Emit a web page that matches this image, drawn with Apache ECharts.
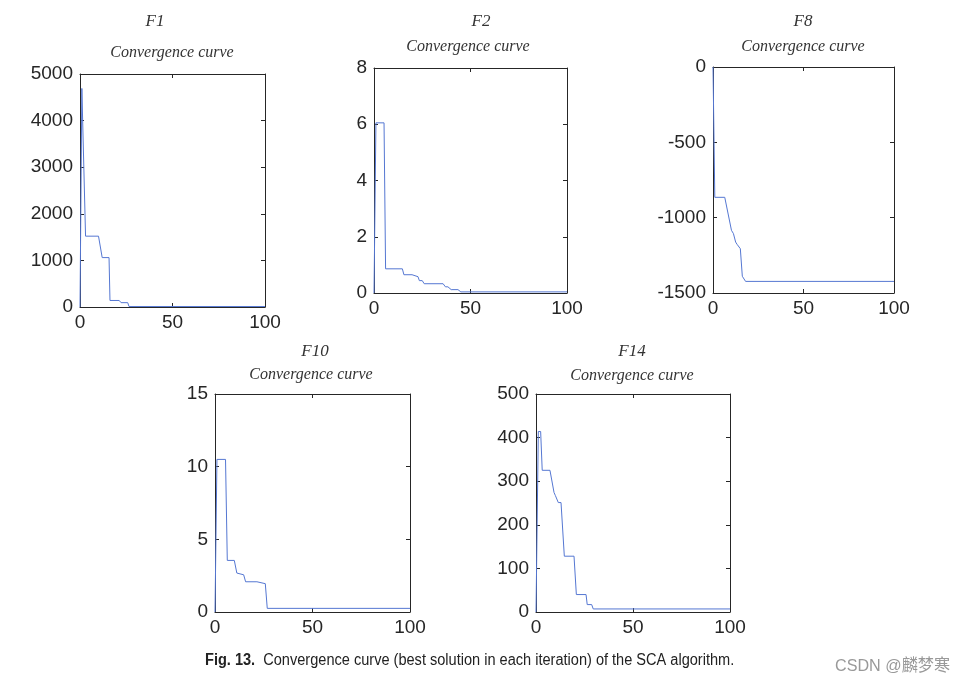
<!DOCTYPE html>
<html><head><meta charset="utf-8">
<script src="https://cdn.jsdelivr.net/npm/echarts@6/dist/echarts.min.js"></script>
<style>html,body{margin:0;padding:0;background:#fff}#c{width:967px;height:686px}</style>
</head><body><div id="c"></div>
<script>
// Panel titles
const panelNames = ['F1', 'F2', 'F8', 'F10', 'F14'];
const subTitle = 'Convergence curve';
const xTicks = [0, 50, 100];
// y axis ranges (min, max, interval)
const yMins = [0, 0, -1500, 0, 0];
const yMaxs = [5000, 8, 0, 15, 500];
const yIntervals = [1000, 2, 500, 5, 100];

// Convergence curve breakpoints (iteration, best value)
const f1X = [0, 1, 3, 10, 12, 15.7, 16.2, 21.2, 22.2, 25.8, 26.5, 100];
const f1Y = [0, 4690, 1520, 1520, 1060, 1060, 140, 140, 93, 93, 10, 10];
const f2X = [0, 1, 5.2, 6, 14.7, 15.5, 19.7, 20.5, 22.8, 23.5, 25, 26, 35.8, 37, 38.3, 40, 43.5, 45, 100];
const f2Y = [0, 6.05, 6.05, 0.86, 0.86, 0.65, 0.65, 0.58, 0.58, 0.44, 0.44, 0.33, 0.33, 0.22, 0.22, 0.12, 0.12, 0.04, 0.04];
const f8X = [0, 1, 6.5, 10.2, 11.3, 12.5, 13.3, 15.1, 16.2, 18, 100];
const f8Y = [0, -865, -865, -1084, -1106, -1162, -1177, -1206, -1389, -1423, -1423];
const f10X = [0, 1, 5.4, 6.3, 9.9, 11.2, 14.7, 15.7, 21.5, 22.5, 25.8, 26.8, 100];
const f10Y = [0, 10.5, 10.5, 3.55, 3.55, 2.68, 2.56, 2.08, 2.08, 1.95, 1.95, 0.25, 0.25];
const f14X = [0, 1.2, 2.4, 3.2, 7.2, 9.3, 10, 11.5, 12.9, 14.6, 19.6, 20.8, 25.8, 26.4, 28.7, 29.5, 100];
const f14Y = [0, 414, 414, 325, 325, 274, 267, 251, 251, 128, 128, 40, 40, 17, 17, 7, 7];

const captionBold = 'Fig. 13.';
const captionText = 'Convergence curve (best solution in each iteration) of the SCA algorithm.';
const watermark = 'CSDN @麟梦寒';

const seriesX = [f1X, f2X, f8X, f10X, f14X];
const seriesY = [f1Y, f2Y, f8Y, f10Y, f14Y];

const grids = [
  {left: 80, top: 74, width: 185, height: 233},
  {left: 374, top: 68, width: 193, height: 225},
  {left: 713, top: 67, width: 181, height: 226},
  {left: 215, top: 394, width: 195, height: 218},
  {left: 536, top: 394, width: 194, height: 218}
];
const titlePos = [
  {n: [155, 22], s: [172, 53]},
  {n: [481, 22], s: [468, 47]},
  {n: [803, 22], s: [803, 47]},
  {n: [315, 352], s: [311, 375]},
  {n: [632, 352], s: [632, 376]}
];

const axisColor = '#262626';
const lineColor = '#5577d2';
const labelFont = {fontFamily: 'Liberation Sans', fontSize: 19, color: axisColor};
const xAxes = [], yAxes = [], series = [], graphics = [];
grids.forEach((g, i) => {
  const base = {min: 0, max: 100, interval: 50, gridIndex: i,
    axisLine: {show: true, onZero: false, lineStyle: {color: axisColor, width: 1}},
    axisTick: {show: true, inside: true, length: 4, lineStyle: {color: axisColor}},
    splitLine: {show: false}};
  xAxes.push(Object.assign({}, base, {type: 'value', position: 'bottom',
    axisLabel: Object.assign({show: true, margin: 6, formatter: v => String(v)}, labelFont)}));
  xAxes.push(Object.assign({}, base, {type: 'value', position: 'top', axisLabel: {show: false}}));
  const yb = {type: 'value', min: yMins[i], max: yMaxs[i], interval: yIntervals[i], gridIndex: i,
    axisLine: {show: true, onZero: false, lineStyle: {color: axisColor, width: 1}},
    axisTick: {show: true, inside: true, length: 4, lineStyle: {color: axisColor}},
    splitLine: {show: false}};
  yAxes.push(Object.assign({}, yb, {position: 'left',
    axisLabel: Object.assign({show: true, margin: 7, formatter: v => String(v)}, labelFont)}));
  yAxes.push(Object.assign({}, yb, {position: 'right', axisLabel: {show: false}}));
  series.push({type: 'line', xAxisIndex: 2 * i, yAxisIndex: 2 * i, showSymbol: false, symbol: 'none',
    lineStyle: {color: lineColor, width: 1}, animation: false,
    data: seriesX[i].map((x, k) => [x, seriesY[i][k]])});
  graphics.push({type: 'text', x: titlePos[i].n[0], y: titlePos[i].n[1],
    style: {text: panelNames[i], font: 'italic 17px "Liberation Serif"', fill: '#333', textAlign: 'center', textVerticalAlign: 'middle'}});
  graphics.push({type: 'text', x: titlePos[i].s[0], y: titlePos[i].s[1],
    style: {text: subTitle, font: 'italic 16px "Liberation Serif"', fill: '#333', textAlign: 'center', textVerticalAlign: 'middle'}});
});
graphics.push({type: 'text', x: 205, y: 661, scaleX: 0.91, scaleY: 1,
  style: {text: '{b|' + captionBold + '}  ' + captionText,
    rich: {b: {fontWeight: 'bold', fontSize: 16, fontFamily: 'Liberation Sans', fill: '#222'}},
    fontFamily: 'Liberation Sans', fontSize: 16, fill: '#222', textVerticalAlign: 'middle'}});
graphics.push({type: 'text', x: 835, y: 666, scaleX: 0.95, scaleY: 1,
  style: {text: watermark, fontFamily: 'Liberation Sans, "Noto Sans CJK SC"', fontSize: 17, fill: '#999', textVerticalAlign: 'middle'}});

const chart = echarts.init(document.getElementById('c'), null, {renderer: 'canvas'});
chart.setOption({
  animation: false,
  backgroundColor: '#fff',
  grid: grids.map(g => Object.assign({containLabel: false}, g)),
  xAxis: xAxes, yAxis: yAxes, series: series, graphic: graphics
});
</script></body></html>
